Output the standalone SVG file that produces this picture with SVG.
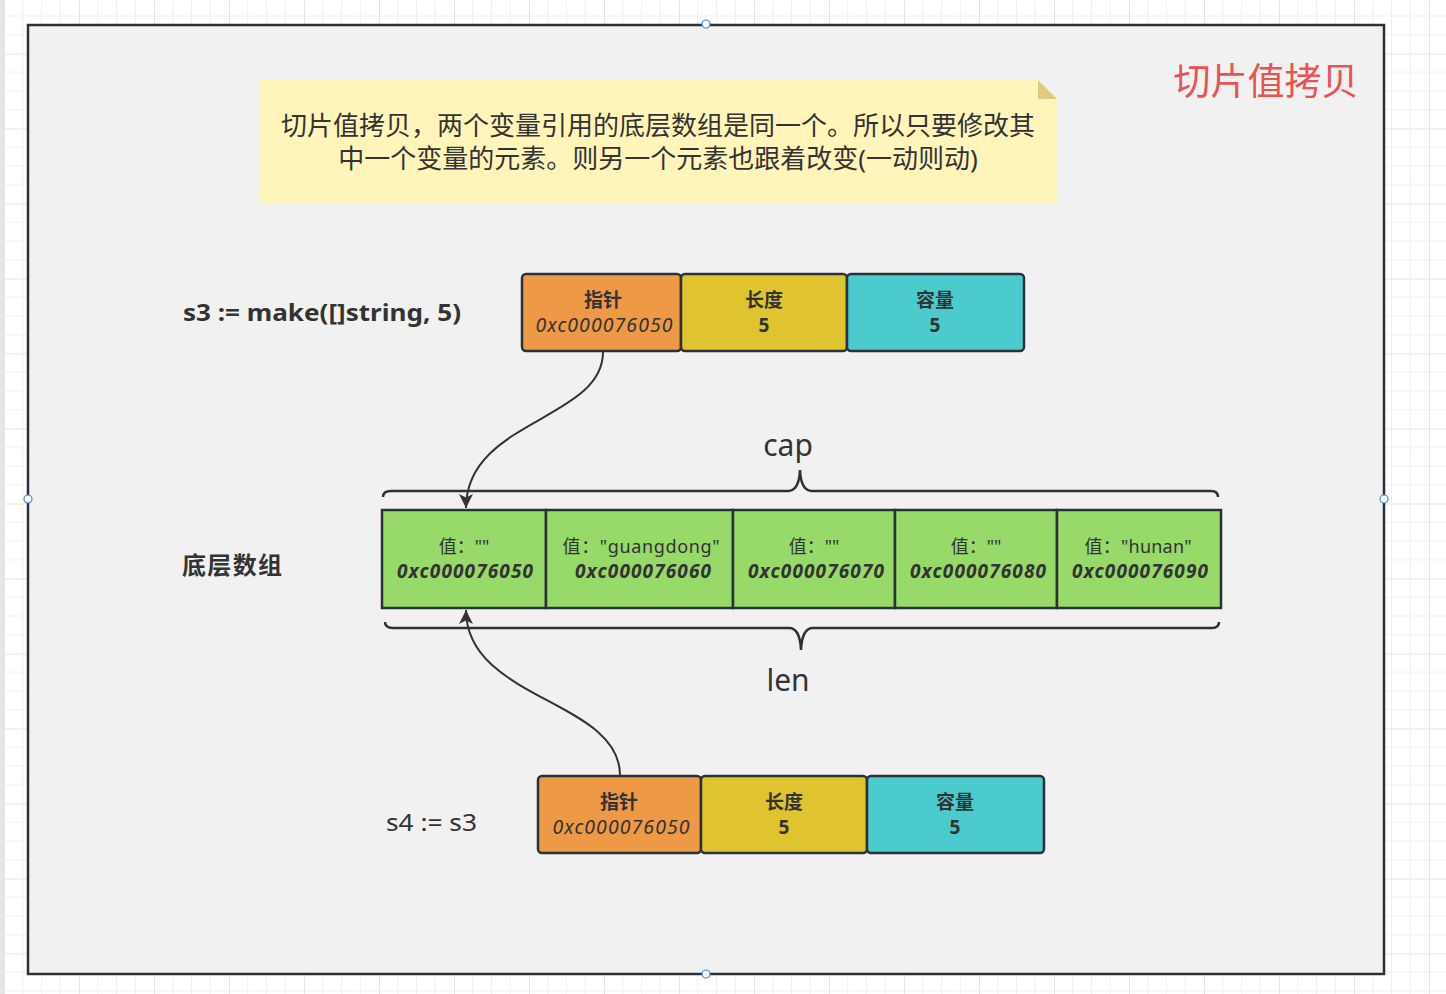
<svg xmlns="http://www.w3.org/2000/svg" width="1446" height="994" viewBox="0 0 1446 994">
<style>
  text { font-family: "Noto Sans", "Noto Sans CJK SC", sans-serif; fill: #333333; }
  .box { stroke: #2b3138; stroke-width: 2.5; }
  .ptr { fill: #EE9945; }
  .len { fill: #DFC430; }
  .cap { fill: #4BCBCD; }
  .cell { fill: #97DA6A; stroke: #2b3138; stroke-width: 2.5; }
  .hd { font-size: 19px; font-weight: bold; text-anchor: middle; }
  .addr { font-size: 19.5px; font-style: italic; text-anchor: middle; }
  .val { font-size: 18px; text-anchor: middle; }
  .baddr { font-size: 19px; font-style: italic; font-weight: bold; text-anchor: middle; }
  .conn { fill: none; stroke: #333333; stroke-width: 2; }
  .brace { fill: none; stroke: #2b3138; stroke-width: 2.5; }
  .handle { fill: #ffffff; stroke: #3d85f0; stroke-width: 1.2; }
</style>
<defs>
  <pattern id="grid" patternUnits="userSpaceOnUse" x="4" y="-21.5" width="75" height="75">
    <rect width="75" height="75" fill="#ffffff"/>
    <path d="M18.75 0V75M37.5 0V75M56.25 0V75M0 18.75H75M0 37.5H75M0 56.25H75" stroke="#f0f0f0" stroke-width="1"/>
    <path d="M0.5 0V75M0 0.5H75" stroke="#e4e4e4" stroke-width="1"/>
  </pattern>
  <marker id="arrow" viewBox="0 0 10 10" refX="10" refY="5" markerWidth="7" markerHeight="7" markerUnits="strokeWidth" orient="auto">
    <path d="M0,0 L10,5 L0,10 L2.5,5 z" fill="#333333"/>
  </marker>
</defs>

<rect x="0" y="0" width="1446" height="994" fill="url(#grid)"/>
<rect x="0" y="0" width="4" height="994" fill="#e6e6e6"/>

<g id="frame">
  <rect x="28" y="25" width="1356" height="949" fill="#f1f1f1" stroke="#2b3138" stroke-width="2.5"/>
</g>

<g id="title">
  <text x="1266" y="95" font-size="37" text-anchor="middle" style="fill:#E85353">切片值拷贝</text>
</g>

<g id="note">
  <path d="M259 80 H1038 L1057 99 V204 H259 Z" fill="#FFF5BA"/>
  <path d="M1038 80 L1057 99 H1038 Z" fill="#DECB80"/>
  <text x="658" y="135" font-size="26" text-anchor="middle">切片值拷贝，两个变量引用的底层数组是同一个。所以只要修改其</text>
  <text x="658" y="168" font-size="26" text-anchor="middle">中一个变量的元素。则另一个元素也跟着改变(一动则动)</text>
</g>

<g id="label-s3">
  <text x="183" y="321" font-size="24" font-weight="bold" textLength="278" lengthAdjust="spacingAndGlyphs">s3 := make([]string, 5)</text>
</g>
<g id="label-array">
  <text x="182" y="574" font-size="24" font-weight="bold" textLength="100">底层数组</text>
</g>
<g id="label-s4">
  <text x="386" y="831" font-size="24" textLength="91" lengthAdjust="spacingAndGlyphs">s4 := s3</text>
</g>

<g id="s3-ptr">
  <rect class="box ptr" x="522" y="274" width="159" height="77" rx="4"/>
  <text class="hd" x="603" y="307">指针</text>
  <text class="addr" x="604" y="332" textLength="137">0xc000076050</text>
</g>
<g id="s3-len">
  <rect class="box len" x="681" y="274" width="166" height="77" rx="4"/>
  <text class="hd" x="764" y="307">长度</text>
  <text class="hd" x="764" y="332">5</text>
</g>
<g id="s3-cap">
  <rect class="box cap" x="847" y="274" width="177" height="77" rx="4"/>
  <text class="hd" x="935" y="307">容量</text>
  <text class="hd" x="935" y="332">5</text>
</g>

<g id="cell-0">
  <rect class="cell" x="382" y="510" width="164" height="98"/>
  <text class="val" x="464" y="553">值：""</text>
  <text class="baddr" x="465" y="578" textLength="136">0xc000076050</text>
</g>
<g id="cell-1">
  <rect class="cell" x="546" y="510" width="187" height="98"/>
  <text class="val" x="641" y="553" textLength="157">值："guangdong"</text>
  <text class="baddr" x="643" y="578" textLength="136">0xc000076060</text>
</g>
<g id="cell-2">
  <rect class="cell" x="733" y="510" width="162" height="98"/>
  <text class="val" x="814" y="553">值：""</text>
  <text class="baddr" x="816" y="578" textLength="136">0xc000076070</text>
</g>
<g id="cell-3">
  <rect class="cell" x="895" y="510" width="162" height="98"/>
  <text class="val" x="976" y="553">值：""</text>
  <text class="baddr" x="978" y="578" textLength="136">0xc000076080</text>
</g>
<g id="cell-4">
  <rect class="cell" x="1057" y="510" width="164" height="98"/>
  <text class="val" x="1138" y="553" textLength="107">值："hunan"</text>
  <text class="baddr" x="1140" y="578" textLength="136">0xc000076090</text>
</g>

<g id="brace-cap">
  <path class="brace" d="M383 497 Q383 491 391 491 H788 Q799 491 800 470 Q801 491 812 491 H1211 Q1218 491 1218 497"/>
  <text x="788" y="456" font-size="30" text-anchor="middle">cap</text>
</g>
<g id="brace-len">
  <path class="brace" d="M385 622 Q385 628 393 628 H789 Q800 628 801 650 Q802 628 813 628 H1212 Q1219 628 1219 622"/>
  <text x="788" y="691" font-size="30" text-anchor="middle">len</text>
</g>

<g id="s4-ptr">
  <rect class="box ptr" x="538" y="776" width="163" height="77" rx="4"/>
  <text class="hd" x="619" y="809">指针</text>
  <text class="addr" x="621" y="834" textLength="137">0xc000076050</text>
</g>
<g id="s4-len">
  <rect class="box len" x="701" y="776" width="166" height="77" rx="4"/>
  <text class="hd" x="784" y="809">长度</text>
  <text class="hd" x="784" y="834">5</text>
</g>
<g id="s4-cap">
  <rect class="box cap" x="867" y="776" width="177" height="77" rx="4"/>
  <text class="hd" x="955" y="809">容量</text>
  <text class="hd" x="955" y="834">5</text>
</g>

<g id="connectors">
  <path class="conn" marker-end="url(#arrow)" d="M603 352 C603 420 466 420 466 508"/>
  <path class="conn" marker-end="url(#arrow)" d="M620 775 C620 700 466 700 466 610"/>
</g>

<g id="handles">
  <circle class="handle" cx="706" cy="24" r="4"/>
  <circle class="handle" cx="28" cy="499" r="4"/>
  <circle class="handle" cx="1384" cy="499" r="4"/>
  <circle class="handle" cx="706" cy="974" r="4"/>
</g>
</svg>
